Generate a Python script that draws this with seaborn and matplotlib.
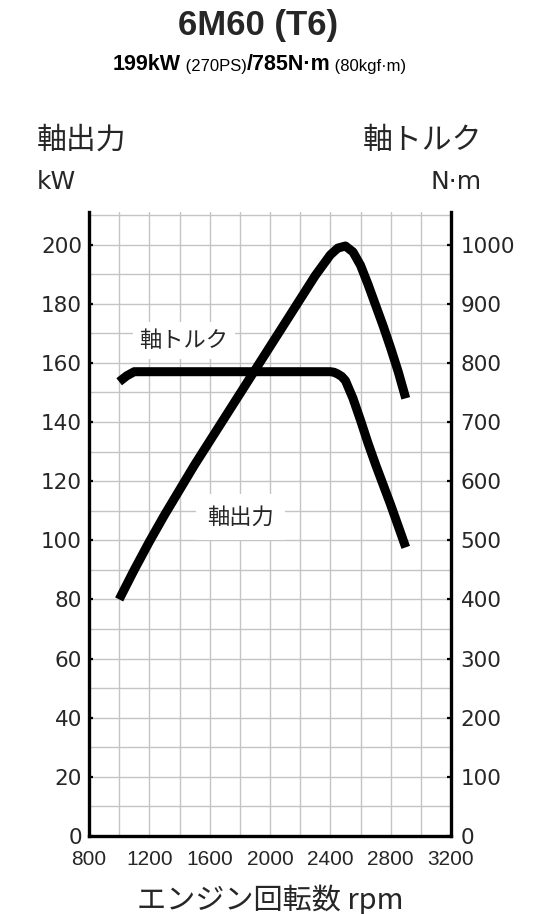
import numpy as np
import pandas as pd
import matplotlib
matplotlib.use('Agg')
import matplotlib.pyplot as plt
from matplotlib.offsetbox import TextArea, HPacker, AnchoredOffsetbox
import seaborn as sns

# Engine curve
power_rpm = [1000, 1100, 1200, 1300, 1400, 1500, 1600, 1700, 1800, 1900, 2000, 2100,
             2200, 2300, 2400, 2450, 2500, 2550, 2600, 2650, 2700, 2750, 2800, 2850, 2900]
power_kw = [80, 90, 99.5, 108.5, 117, 125.5, 133.5, 141.5, 149.5, 157.5, 165.5, 173.5,
            181.5, 189.5, 196.5, 198.8, 199.5, 197.5, 193, 186.5, 179.5, 172.5, 165, 157, 148]

torque_rpm = [1000, 1050, 1100, 1600, 2000, 2400, 2425, 2450, 2475, 2500, 2550, 2600,
              2650, 2700, 2800, 2900]
torque_nm = [768, 778, 785, 785, 785, 785, 784, 781, 777, 770, 740, 703, 664, 628, 560, 488]

rpm_ticks = [800, 1200, 1600, 2000, 2400, 2800, 3200]
kw_ticks = [0, 20, 40, 60, 80, 100, 120, 140, 160, 180, 200]
nm_ticks = [0, 100, 200, 300, 400, 500, 600, 700, 800, 900, 1000]

power_df = pd.DataFrame({'rpm': power_rpm, 'kw': power_kw})
torque_df = pd.DataFrame({'rpm': torque_rpm, 'nm': torque_nm})

sns.set_style('white')
plt.rcParams['font.family'] = ['DejaVu Sans', 'Noto Sans CJK JP']

fig = plt.figure(figsize=(5.6, 9.14), dpi=100)
ax = fig.add_axes([89 / 560, 1 - 836 / 914, 362 / 560, 624 / 914])
ax2 = ax.twinx()

ymax = 211
ax.set_xlim(800, 3200)
ax.set_ylim(0, ymax)
ax2.set_ylim(0, ymax * 5)

# grid every 200 rpm / 10 kW
ax.set_xticks(rpm_ticks)
ax.set_xticks(np.arange(800, 3201, 200), minor=True)
ax.set_yticks(kw_ticks)
ax.set_yticks(np.arange(0, 211, 10), minor=True)
ax2.set_yticks(nm_ticks)
ax.grid(True, which='both', color='#c4c4c4', linewidth=1.0)
ax.set_axisbelow(True)
ax2.grid(False)

sns.lineplot(data=power_df, x='rpm', y='kw', ax=ax, color='black', linewidth=6.5,
             solid_capstyle='butt', solid_joinstyle='round', zorder=5)
sns.lineplot(data=torque_df, x='rpm', y='nm', ax=ax2, color='black', linewidth=6.5,
             solid_capstyle='butt', solid_joinstyle='round', zorder=5)

ax.set_ylabel('')
ax2.set_ylabel('')
ax.set_xlabel('エンジン回転数 rpm', fontsize=21, family=['Noto Sans CJK JP'], labelpad=11)

for a in (ax, ax2):
    for side in ('top', 'left', 'right', 'bottom'):
        a.spines[side].set_visible(False)
ax.spines['left'].set_visible(True)
ax.spines['bottom'].set_visible(True)
ax2.spines['right'].set_visible(True)
for sp in (ax.spines['left'], ax.spines['bottom'], ax2.spines['right']):
    sp.set_color('black')
    sp.set_linewidth(2.4)

ax.tick_params(axis='both', which='major', direction='in', length=3, width=1.6, color='black')
ax.tick_params(axis='both', which='minor', length=0)
ax.tick_params(axis='x', pad=10, labelsize=15)
ax.tick_params(axis='y', pad=5, labelsize=15.5)
ax2.tick_params(axis='y', direction='in', length=3, width=1.6, color='black', pad=7, labelsize=15.5)
for lab in ax.get_xticklabels():
    lab.set_fontfamily('Liberation Sans')

# curve labels
box = dict(boxstyle='square,pad=0.3', facecolor='white', edgecolor='none')
ax.text(1430, 167.6, '軸トルク', fontsize=16, family=['Noto Sans CJK JP'],
        ha='center', va='center', bbox=box, zorder=3)
ax.text(1804, 107.9, '軸出力', fontsize=16, family=['Noto Sans CJK JP'],
        ha='center', va='center', bbox=dict(boxstyle='square,pad=0.5', facecolor='white', edgecolor='none'),
        zorder=3)

# axis headers
fig.text(37 / 560, 1 - 140 / 914, '軸出力', fontsize=21.5, family=['Noto Sans CJK JP'], ha='left', va='center')
fig.text(37 / 560, 1 - 182 / 914, 'kW', fontsize=18, ha='left', va='center')
fig.text(482 / 560, 1 - 140 / 914, '軸トルク', fontsize=21.5, family=['Noto Sans CJK JP'], ha='right', va='center')
fig.text(482 / 560, 1 - 182 / 914, 'N·m', fontsize=18, ha='right', va='center')

# title and rating line
fig.text(258.5 / 560, 1 - 25.5 / 914, '6M60 (T6)', fontsize=25, fontweight='bold',
         family='Liberation Sans', ha='center', va='center')
bold = dict(fontsize=15.5, fontweight='bold', family='Liberation Sans', color='black')
small = dict(fontsize=12, family='Liberation Sans', color='black')
parts = [TextArea('199kW', textprops=bold), TextArea(' (270PS)', textprops=small),
         TextArea('/785N·m', textprops=bold), TextArea(' (80kgf·m)', textprops=small)]
pack = HPacker(children=parts, align='baseline', pad=0, sep=0)
anch = AnchoredOffsetbox(loc='center', child=pack, pad=0, borderpad=0, frameon=False,
                         bbox_to_anchor=(259.5 / 560, 1 - 65 / 914), bbox_transform=fig.transFigure)
fig.add_artist(anch)

fig.savefig('out.png', dpi=100)
